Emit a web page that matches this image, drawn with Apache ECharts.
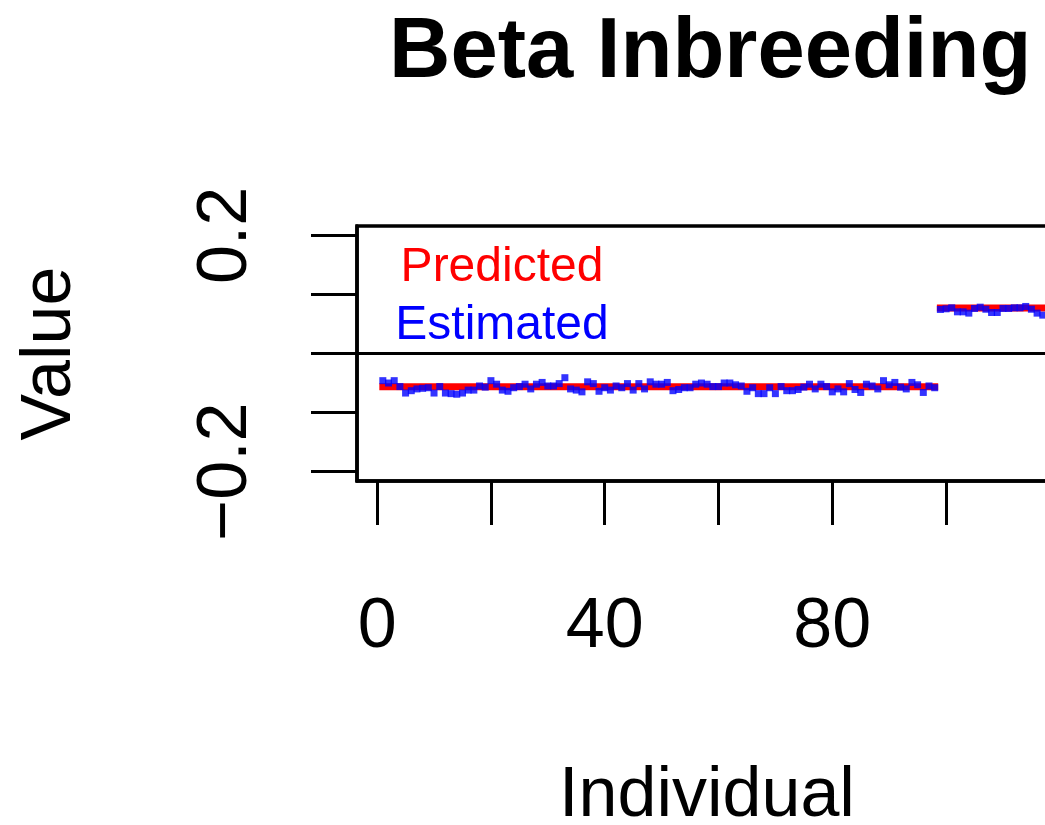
<!DOCTYPE html>
<html><head><meta charset="utf-8">
<script src="https://cdn.jsdelivr.net/npm/echarts@6/dist/echarts.min.js"></script>
<style>html,body{margin:0;padding:0;background:#fff}#c{width:1045px;height:825px}</style>
</head><body><div id="c"></div>
<script>
// ---- data ----
const titleText = 'Beta Inbreeding';
const xAxisTitle = 'Individual';
const yAxisTitle = 'Value';
const legendLabels = ['Predicted', 'Estimated'];
const xTicks = [0, 20, 40, 60, 80, 100];
const xTickLabels = [0, 40, 80];
const yTicks = [-0.2, -0.1, 0, 0.1, 0.2];
const yTickLabels = [-0.2, 0.2];

const groupAFirst = 1;
const estimatedA = [
  -0.046, -0.050, -0.046, -0.056, -0.067, -0.063, -0.060, -0.059, -0.058, -0.067,
  -0.056, -0.067, -0.068, -0.069, -0.067, -0.062, -0.062, -0.055, -0.057, -0.046,
  -0.052, -0.062, -0.064, -0.058, -0.056, -0.052, -0.060, -0.052, -0.049, -0.055,
  -0.055, -0.051, -0.041, -0.060, -0.062, -0.065, -0.048, -0.051, -0.064, -0.058,
  -0.062, -0.055, -0.058, -0.051, -0.062, -0.051, -0.060, -0.048, -0.052, -0.052,
  -0.049, -0.063, -0.061, -0.058, -0.058, -0.052, -0.050, -0.052, -0.056, -0.056,
  -0.050, -0.050, -0.053, -0.055, -0.064, -0.058, -0.068, -0.068, -0.058, -0.068,
  -0.056, -0.063, -0.063, -0.061, -0.057, -0.052, -0.060, -0.052, -0.056, -0.065,
  -0.060, -0.065, -0.051, -0.061, -0.066, -0.052, -0.055, -0.060, -0.046, -0.053,
  -0.049, -0.057, -0.060, -0.049, -0.053, -0.066, -0.055, -0.058
];
const predictedA = -0.0565;

const groupBFirst = 99;
const estimatedB = [
  0.0746, 0.0757, 0.0774, 0.0706, 0.0706, 0.0684, 0.0763, 0.0785, 0.0750, 0.0695,
  0.0695, 0.0763, 0.0763, 0.0774, 0.0774, 0.0797, 0.0750, 0.0684, 0.0650
];
const predictedB = 0.077;

// ---- build series data ----
const estA = estimatedA.map((v, i) => [groupAFirst + i, v]);
const estB = estimatedB.map((v, i) => [groupBFirst + i, v]);
const predA = [[groupAFirst, predictedA], [groupAFirst + estimatedA.length - 1, predictedA]];
const predB = [[groupBFirst, predictedB], [groupBFirst + estimatedB.length - 1, predictedB]];

const FONT = 'Liberation Sans, Arial, Helvetica, sans-serif';
const RED = '#FF0000', BLUE = '#0000FF';
const minus = v => String(v).replace('-', '\u2212');

const chart = echarts.init(document.getElementById('c'), null, {renderer: 'canvas'});
chart.setOption({
  animation: false,
  backgroundColor: '#ffffff',
  title: {
    text: titleText,
    left: 384, top: 6,
    textStyle: {fontFamily: FONT, fontSize: 85, fontWeight: 'bold', color: '#000'}
  },
  grid: {
    left: 357, top: 226, width: 700, height: 255,
    containLabel: false, outerBoundsMode: 'none',
    show: true, borderColor: '#000', borderWidth: 3.5, backgroundColor: 'transparent'
  },
  xAxis: {
    type: 'value', min: -3.54, max: 119.5,
    name: xAxisTitle, nameLocation: 'middle', nameGap: 281,
    nameTextStyle: {fontFamily: FONT, fontSize: 70, color: '#000'},
    splitLine: {show: false},
    axisLine: {show: true, onZero: false, lineStyle: {color: '#000', width: 3.5}},
    axisTick: {show: true, length: 44, lineStyle: {color: '#000', width: 3}, customValues: xTicks},
    axisLabel: {fontFamily: FONT, fontSize: 70, color: '#000', margin: 112, customValues: xTickLabels,
      formatter: v => minus(v)}
  },
  yAxis: {
    type: 'value', min: -0.216, max: 0.216,
    name: yAxisTitle, nameLocation: 'middle', nameGap: 271, nameRotate: 90,
    nameTextStyle: {fontFamily: FONT, fontSize: 70, color: '#000'},
    splitLine: {show: false},
    axisLine: {show: true, onZero: false, lineStyle: {color: '#000', width: 3.5}},
    axisTick: {show: true, length: 46, lineStyle: {color: '#000', width: 3}, customValues: yTicks},
    axisLabel: {fontFamily: FONT, fontSize: 70, color: '#000', margin: 95, rotate: 90,
      customValues: yTickLabels, formatter: v => minus(v)}
  },
  graphic: [
    {type: 'text', x: 502, y: 268,
      style: {text: legendLabels[0], fill: RED, font: '48px ' + FONT, textAlign: 'center', textVerticalAlign: 'middle'}},
    {type: 'text', x: 502, y: 326,
      style: {text: legendLabels[1], fill: BLUE, font: '48px ' + FONT, textAlign: 'center', textVerticalAlign: 'middle'}}
  ],
  series: [
    {name: legendLabels[0], type: 'line', data: predA, showSymbol: false, symbol: 'none',
      lineStyle: {color: RED, width: 7, cap: 'square'}, z: 2,
      markLine: {silent: true, symbol: 'none', label: {show: false},
        lineStyle: {color: '#000', width: 3, type: 'solid'}, data: [{yAxis: 0}]}},
    {name: legendLabels[0] + ' B', type: 'line', data: predB, showSymbol: false, symbol: 'none',
      lineStyle: {color: RED, width: 7, cap: 'square'}, z: 2},
    {name: legendLabels[1], type: 'scatter', data: estA, symbol: 'rect', symbolSize: 7,
      itemStyle: {color: BLUE}, z: 3},
    {name: legendLabels[1] + ' B', type: 'scatter', data: estB, symbol: 'rect', symbolSize: 7,
      itemStyle: {color: BLUE}, z: 3}
  ]
});
</script></body></html>
